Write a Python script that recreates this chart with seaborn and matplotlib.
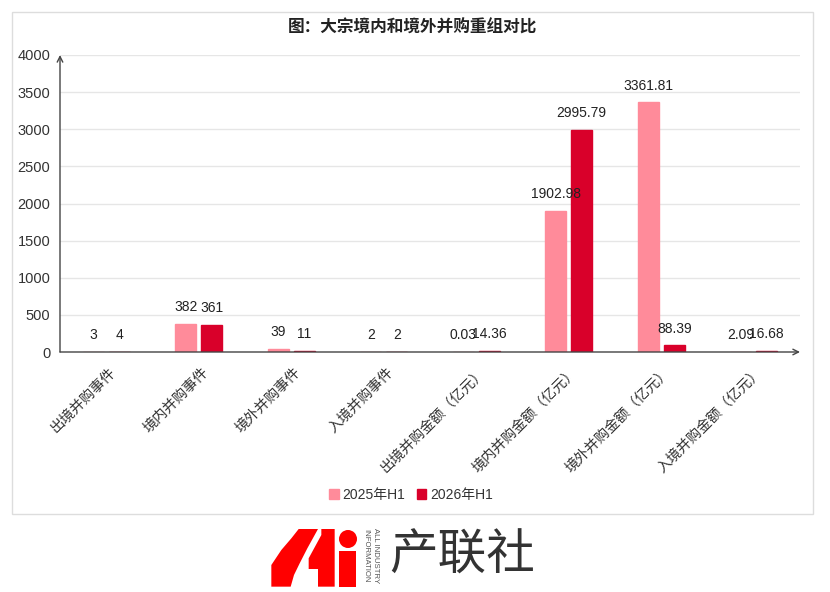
import matplotlib
matplotlib.use('Agg')
import matplotlib.pyplot as plt
from matplotlib.patches import Polygon, Circle, Rectangle, Patch
from matplotlib.transforms import ScaledTranslation
import seaborn as sns
import pandas as pd

# data
categories = ['出境并购事件', '境内并购事件', '境外并购事件', '入境并购事件',
              '出境并购金额（亿元）', '境内并购金额（亿元）', '境外并购金额（亿元）', '入境并购金额（亿元）']
series = ['2025年H1', '2026年H1']
values_2025 = [3, 382, 39, 2, 0.03, 1902.98, 3361.81, 2.09]
values_2026 = [4, 361, 11, 2, 14.36, 2995.79, 88.39, 16.68]
labels_2025 = ['3', '382', '39', '2', '0.03', '1902.98', '3361.81', '2.09']
labels_2026 = ['4', '361', '11', '2', '14.36', '2995.79', '88.39', '16.68']
yticks = [0, 500, 1000, 1500, 2000, 2500, 3000, 3500, 4000]
colors = ['#FF8B9A', '#D9002A']

df = pd.DataFrame({
    'category': categories * 2,
    'series': [series[0]] * len(categories) + [series[1]] * len(categories),
    'value': values_2025 + values_2026,
})

sns.set_theme(style='white')
plt.rcParams['font.family'] = ['Liberation Sans', 'Noto Sans CJK SC']
plt.rcParams['axes.unicode_minus'] = False

W, H = 830, 592
fig = plt.figure(figsize=(W / 100, H / 100), dpi=100)
fig.patch.set_facecolor('white')

# outer frame
fig.patches.append(Rectangle((12 / W, 1 - 514 / H), 801 / W, 502 / H,
                             transform=fig.transFigure, fill=False,
                             edgecolor='#dddddd', lw=1))

ax = fig.add_axes([60 / W, 1 - 352 / H, 740 / W, 297 / H])
sns.barplot(data=df, x='category', y='value', hue='series', hue_order=series,
            palette=colors, width=0.56, gap=0.2, ax=ax, saturation=1)
for p in ax.patches:
    p.set_edgecolor(p.get_facecolor())
    p.set_linewidth(1.0)

for cont, labs in zip(ax.containers, [labels_2025, labels_2026]):
    ax.bar_label(cont, labels=labs, padding=7, fontsize=10, color='#222222')

ax.set_ylim(0, 4000)
ax.set_yticks(yticks)
ax.set_xlim(-0.5, len(categories) - 0.5)
ax.set_xlabel('')
ax.set_ylabel('')
ax.yaxis.grid(True, color='#e6e6e6', lw=1)
ax.set_axisbelow(True)
for s in ax.spines.values():
    s.set_visible(False)
ax.tick_params(axis='y', length=0, pad=7, labelsize=10.5, labelcolor='#333333')
ax.tick_params(axis='x', length=0, pad=6, labelsize=10.3, labelcolor='#333333')
shift = ScaledTranslation(7 / 100, -9 / 100, fig.dpi_scale_trans)
for t in ax.get_xticklabels():
    t.set_rotation(45)
    t.set_ha('right')
    t.set_va('center')
    t.set_rotation_mode('anchor')
    t.set_transform(t.get_transform() + shift)

# axis arrows
arrow = dict(arrowstyle='->', color='#444444', lw=1, shrinkA=0, shrinkB=0,
             mutation_scale=10)
ax.annotate('', xy=(0, 1), xytext=(0, 0), xycoords='axes fraction', arrowprops=arrow)
ax.annotate('', xy=(1, 0), xytext=(0, 0), xycoords='axes fraction', arrowprops=arrow)

ax.get_legend().remove()
handles = [Patch(facecolor=c, edgecolor=c) for c in colors]
fig.legend(handles, series, loc='center', bbox_to_anchor=(411 / W, 1 - 495 / H),
           ncol=2, frameon=False, fontsize=10, handlelength=0.7, handleheight=0.7,
           handletextpad=0.3, columnspacing=0.8, labelcolor='#333333')

fig.text(412 / W, 1 - 28 / H, '图：大宗境内和境外并购重组对比', ha='center', va='center',
         fontsize=12, fontweight='bold', color='#222222',
         family=['Noto Sans CJK SC', 'Liberation Sans'])

# logo
lax = fig.add_axes([268 / W, 1 - 587 / H, 90 / W, 62 / H])
lax.set_xlim(0, 270)
lax.set_ylim(186, 0)
lax.axis('off')
red = '#FF0000'
lax.add_patch(Polygon([(92, 12), (150, 12), (118, 70), (95, 115), (78, 150), (68, 185),
                       (10, 185), (10, 120), (40, 75), (70, 40)], color=red, lw=0))
lax.add_patch(Polygon([(160, 12), (200, 12), (200, 185), (150, 185), (150, 132),
                       (122, 132), (122, 100), (160, 30)], color=red, lw=0))
lax.add_patch(Circle((240, 42), 27, color=red, lw=0))
lax.add_patch(Rectangle((213, 78), 52, 107, color=red, lw=0))

fig.text(375 / W, 1 - 556 / H, 'ALL INDUSTRY', rotation=-90, ha='center', va='center',
         fontsize=5.6, color='#555555')
fig.text(366 / W, 1 - 556 / H, 'INFORMATION', rotation=-90, ha='center', va='center',
         fontsize=5.6, color='#555555')
fig.text(462 / W, 1 - 556 / H, '产联社', ha='center', va='center', fontsize=35,
         color='#333333', family=['Noto Sans CJK SC'], fontweight='light')

fig.savefig('out.png', dpi=100, facecolor='white')
